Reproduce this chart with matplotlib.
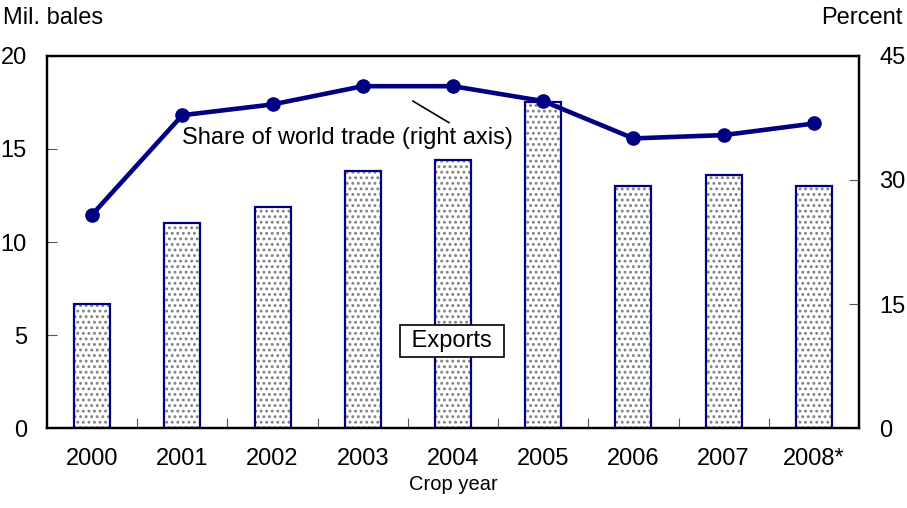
import matplotlib
matplotlib.use("Agg")
import matplotlib.pyplot as plt
import numpy as np

plt.rcParams['font.family'] = ['Liberation Sans', 'DejaVu Sans']
plt.rcParams['hatch.linewidth'] = 1.3

years = ['2000', '2001', '2002', '2003', '2004', '2005', '2006', '2007', '2008*']
exports = [6.7, 11.0, 11.9, 13.8, 14.4, 17.5, 13.0, 13.6, 13.0]      # mil. bales
share = [25.8, 37.8, 39.1, 41.3, 41.3, 39.5, 35.0, 35.4, 36.8]       # percent

navy = '#000080'
fs = 17

fig = plt.figure(figsize=(9.07, 5.08), dpi=100)
ax1 = fig.add_axes([0.0518, 0.1565, 0.8953, 0.7342])
ax2 = ax1.twinx()

x = np.arange(len(years))
# dotted fill, then navy outline on top
ax1.bar(x, exports, width=0.4, facecolor='white', edgecolor='#808080',
        linewidth=0, hatch='...', zorder=2)
ax1.bar(x, exports, width=0.4, facecolor='none', edgecolor=navy,
        linewidth=1.6, zorder=2.5)
ax2.plot(x, share, color=navy, lw=3.3, marker='o', markersize=9.5, zorder=3)

ax1.set_xlim(-0.5, len(years) - 0.5)
ax1.set_ylim(0, 20)
ax2.set_ylim(0, 45)
ax1.set_yticks([0, 5, 10, 15, 20])
ax2.set_yticks([0, 15, 30, 45])
ax1.set_xticks(x)
ax1.set_xticklabels(years)
ax1.set_xticks(np.arange(0.5, len(years) - 1, 1), minor=True)

ax1.tick_params(axis='x', which='major', length=0, pad=14, labelsize=fs)
ax1.tick_params(axis='x', which='minor', direction='in', length=7, width=0.8, color='#555555')
ax1.tick_params(axis='y', direction='in', length=7, width=0.8, color='#555555', pad=14.5, labelsize=fs)
ax2.tick_params(axis='y', direction='in', length=7, width=0.8, color='#555555', pad=14.5, labelsize=fs)

for ax in (ax1, ax2):
    for s in ax.spines.values():
        s.set_linewidth(1.6)
        s.set_color('black')

# axis titles
fig.text(0.003, 0.965, 'Mil. bales', fontsize=fs, ha='left', va='center')
fig.text(0.995, 0.965, 'Percent', fontsize=fs, ha='right', va='center')
ax1.set_xlabel('Crop year', fontsize=14.5, labelpad=4)

# line label with leader
ax2.plot([3.556, 3.956], [39.5, 36.9], color='black', lw=1.2, zorder=3)
ax2.text(2.833, 35.0, 'Share of world trade (right axis)', fontsize=fs,
         ha='center', va='center', zorder=4)

# bar label in box
ax1.text(3.99, 4.68, ' Exports ', fontsize=fs, ha='center', va='center', zorder=5,
         bbox=dict(boxstyle='square,pad=0.22', facecolor='white', edgecolor='black', lw=1.2))

fig.savefig('out.png', dpi=100)
